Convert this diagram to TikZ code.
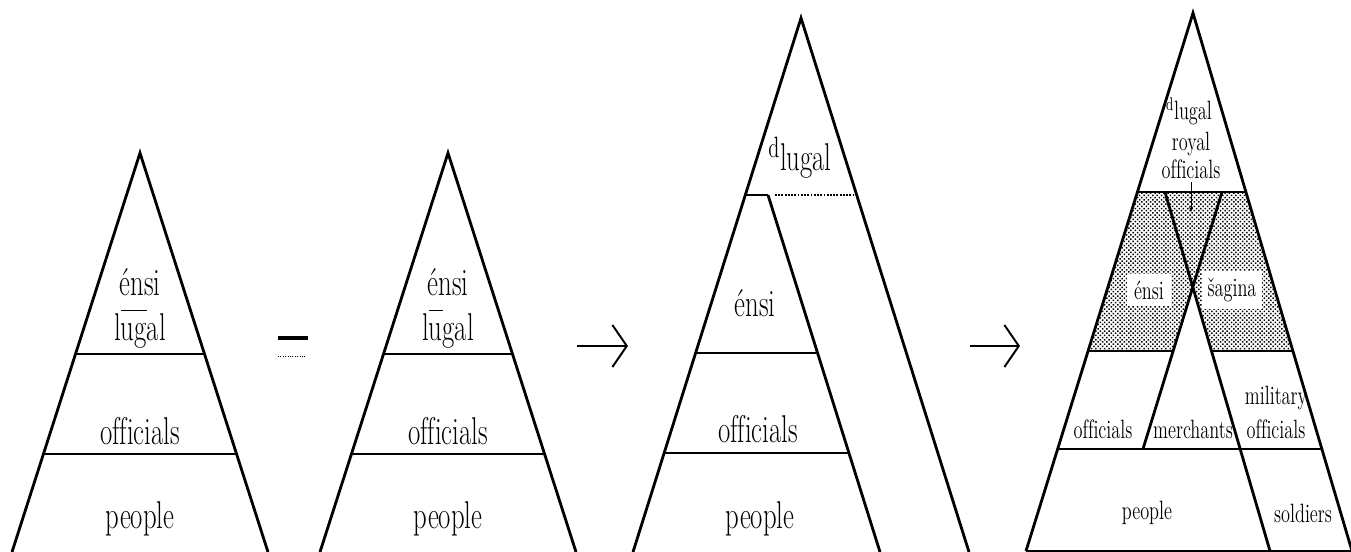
\documentclass[tikz,border=0pt]{standalone}
\usepackage{graphicx}
\usetikzlibrary{arrows.meta,patterns.meta}

\newcommand{\tall}[1]{\scalebox{1}[1.45]{#1}}
\newcommand{\talls}[1]{\scalebox{1}[1.45]{#1}}
\newcommand{\offic}{of\kern0pt f\kern0pt icials}

\tikzset{
  side/.style={line width=2pt},
  layer/.style={line width=1.3pt},
  lbl/.style={inner sep=0pt, font=\fontsize{19}{21}\selectfont},
  slbl/.style={inner sep=0pt, font=\fontsize{13}{15}\selectfont},
  goesto/.style={line width=1.4pt, -{Straight Barb[length=0.36cm, width=1.05cm]}},
}

\begin{document}
\begin{tikzpicture}[x=0.025cm,y=-0.025cm]
\useasboundingbox (0,0) rectangle (1351,552);
% first two pyramids
\foreach \px/\ov/\rest in {140/ug/al,448/u/gal}{
    \begin{scope}[shift={(\px,153)}]
        \draw[side] (-128,399) -- (0,0) -- (128,399);
        \draw[layer] (-64,201) -- (64,201);
        \draw[layer] (-96,301) -- (96,301);
        \node[lbl] (ensi\px) at (0,129) {\tall{énsi}};
        \node[lbl] (lugal\px) at (0,176) {\tall{l$\overline{\mbox{\vphantom{l}\ov}}$\rest}};
        \node[lbl] (off\px) at (0,278) {\tall{\offic}};
        \node[lbl] (ppl\px) at (0,366) {\tall{people}};
    \end{scope}
}
% equal sign
\coordinate (eqa) at (278,338);
\coordinate (eqb) at (308,338);
\coordinate (eqc) at (278,356);
\coordinate (eqd) at (306,356);
\draw[line width=2.6pt] (eqa) -- (eqb);
\draw[line width=0.7pt, densely dotted] (eqc) -- (eqd);
% arrows
\coordinate (arA) at (577,346);
\coordinate (arB) at (628,346);
\coordinate (arC) at (970,346);
\coordinate (arD) at (1020,346);
\draw[goesto] (arA) -- (arB);
\draw[goesto] (arC) -- (arD);
% third pyramid
\draw[side] (633,552) -- (801,18) -- (969,552);
\draw[layer] (745,195) -- (768,195);
\draw[side] (768,195) -- (880,552);
\draw[layer, densely dotted] (775,195) -- (856,195);
\draw[layer] (696,353) -- (818,353);
\draw[layer] (664,453) -- (849,453);
\node[lbl] (dlugal3) at (800,158) {\tall{$^{\mathrm{d}}$lugal}};
\node[lbl] (ensi3) at (755,303) {\tall{énsi}};
\node[lbl] (off3) at (758,429) {\tall{\offic}};
\node[lbl] (ppl3) at (760,519) {\tall{people}};
% fourth pyramid
\coordinate (xx) at (intersection of 1165,192--1270,551 and 1222,192--1143,449);
\fill[pattern={Dots[distance=2.2pt, radius=0.75pt, angle=45]}] (1137.5,192) -- (1245.8,192) -- (1292.7,351)
    -- (1211.5,351) -- (xx) -- (1173.1,351) -- (1088.2,351) -- cycle;
\node[slbl, fill=white, inner xsep=5pt, inner ysep=5pt] (ensi4) at (1149,290) {\talls{énsi}};
\node[slbl, fill=white, inner xsep=4pt, inner ysep=5pt] (sag4) at (1232,290) {\talls{šagina}};
\draw[side] (1026,551) -- (1193,13) -- (1352,551);
\draw[side] (1165,192) -- (1270,551);
\draw[side] (1222,192) -- (1143,449);
\draw[layer] (1137.5,192) -- (1245.8,192);
\draw[layer] (1088.2,351) -- (1173.1,351);
\draw[layer] (1211.5,351) -- (1292.7,351);
\draw[layer] (1057.8,449) -- (1321.6,449);
\draw[layer] (1026,551) -- (1352,551);
\draw[line width=0.6pt, -{Stealth[length=4pt]}] (1191,182) -- (1191,212);
\node[slbl] (dlugal4) at (1189,111) {\talls{$^{\mathrm{d}}$lugal}};
\node[slbl] (royal4) at (1191,144) {\talls{royal}};
\node[slbl] (roff4) at (1191,169) {\talls{\offic}};
\node[slbl] (off4) at (1103,429) {\talls{\offic}};
\node[slbl] (mer4) at (1193,429) {\talls{merchants}};
\node[slbl] (mil4) at (1276,398) {\talls{military}};
\node[slbl] (moff4) at (1276,429) {\talls{\offic}};
\node[slbl] (ppl4) at (1147,513) {\talls{people}};
\node[slbl] (sol4) at (1303,513) {\talls{soldiers}};
\end{tikzpicture}
\end{document}
